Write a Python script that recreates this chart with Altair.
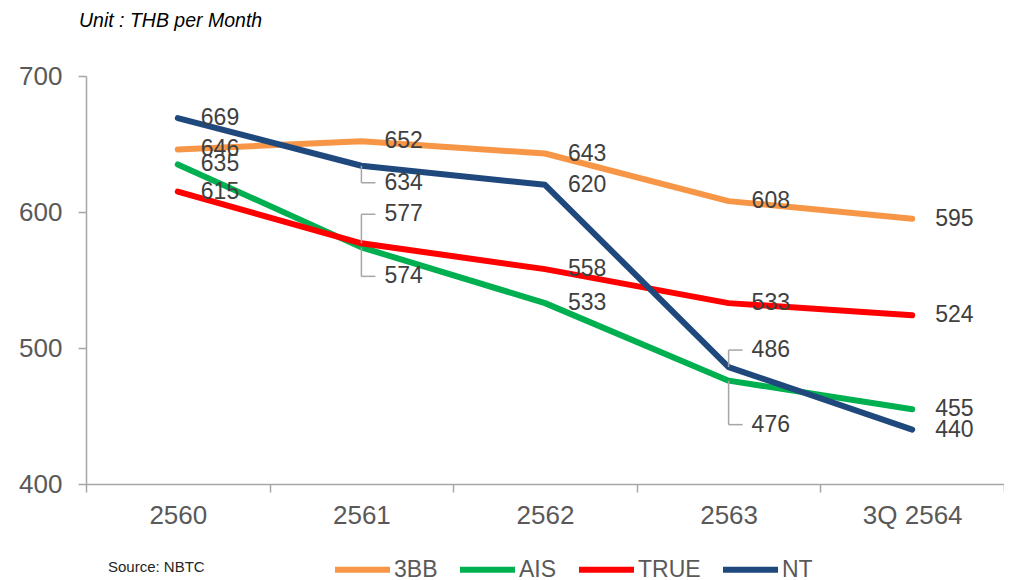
import altair as alt
import pandas as pd

years = ["2560", "2561", "2562", "2563", "3Q 2564"]
series_names = ["3BB", "AIS", "TRUE", "NT"]
bb3 = [646, 652, 643, 608, 595]
ais = [635, 574, 533, 476, 455]
true_ = [615, 577, 558, 533, 524]
nt = [669, 634, 620, 486, 440]
colors = ["#F79646", "#00B050", "#FF0000", "#1F497D"]

values = {"3BB": bb3, "AIS": ais, "TRUE": true_, "NT": nt}
rows = []
for s in series_names:
    for y, v in zip(years, values[s]):
        rows.append({"year": y, "series": s, "value": v})
df = pd.DataFrame(rows)

# labels that are pushed off their point with a leader line: (series, year, pixel dy)
leaders = [("NT", "2561", 17), ("TRUE", "2561", -29), ("AIS", "2561", 29),
           ("NT", "2563", -17), ("AIS", "2563", 44)]
leader_keys = {(s, y) for s, y, _ in leaders}
df["lead"] = [(r.series, r.year) in leader_keys for r in df.itertuples()]

FONT = "Liberation Sans"
x_enc = alt.X("year:N", sort=years, title=None,
              scale=alt.Scale(type="band", paddingInner=0, paddingOuter=0),
              axis=alt.Axis(labelAngle=0, labelFontSize=26, labelColor="#595959",
                            labelFont=FONT, tickBand="extent", tickSize=8,
                            tickColor="#A6A6A6", tickWidth=1.5, domainColor="#A6A6A6",
                            domainWidth=1.5, labelPadding=10))
y_enc = alt.Y("value:Q", title=None,
              scale=alt.Scale(domain=[400, 700], nice=False, zero=False),
              axis=alt.Axis(values=[400, 500, 600, 700], grid=False, labelFontSize=26,
                            labelColor="#595959", labelFont=FONT, tickSize=8,
                            tickColor="#A6A6A6", tickWidth=1.5, domainColor="#A6A6A6",
                            domainWidth=1.5, labelPadding=16))
color_enc = alt.Color("series:N", sort=series_names,
                      scale=alt.Scale(domain=series_names, range=colors),
                      legend=alt.Legend(title=None, orient="none", legendX=246, legendY=463,
                                        direction="horizontal", symbolType="stroke",
                                        symbolSize=3025, symbolStrokeWidth=6,
                                        labelFontSize=23, labelColor="#595959",
                                        labelFont=FONT, labelOffset=1, columnPadding=10,
                                        padding=0))

base = alt.Chart(df)
layers = []
for s in series_names:
    layers.append(base.transform_filter(alt.datum.series == s)
                  .mark_line(strokeWidth=6, strokeCap="round", strokeJoin="round")
                  .encode(x=x_enc, y=y_enc, color=color_enc))

lead_color = "#A6A6A6"
for s, yr, dy in leaders:
    sub = base.transform_filter((alt.datum.series == s) & (alt.datum.year == yr))
    layers.append(sub.mark_rule(color=lead_color, strokeWidth=1.5, y2Offset=dy)
                  .encode(x=alt.X("year:N", sort=years), y="value:Q", y2="value:Q"))
    layers.append(sub.mark_rule(color=lead_color, strokeWidth=1.5, yOffset=dy, x2Offset=14)
                  .encode(x=alt.X("year:N", sort=years), x2="year:N", y="value:Q"))
    layers.append(sub.mark_text(align="left", baseline="middle", dx=23, dy=dy,
                                fontSize=23, font=FONT, color="#404040")
                  .encode(x=alt.X("year:N", sort=years), y="value:Q", text="value:Q"))

layers.append(base.transform_filter(~alt.datum.lead)
              .mark_text(align="left", baseline="middle", dx=23, fontSize=23,
                         font=FONT, color="#404040")
              .encode(x=alt.X("year:N", sort=years), y="value:Q", text="value:Q"))

source = alt.Chart(alt.Data(values=[{"t": "Source: NBTC"}])).mark_text(
    align="left", baseline="middle", fontSize=15, font=FONT, color="#262626"
).encode(x=alt.value(22), y=alt.value(491), text="t:N")
layers.append(source)

chart = alt.layer(*layers).properties(
    width=918, height=408,
    title=alt.TitleParams("Unit : THB per Month", anchor="start", frame="group",
                          fontSize=19.5, fontStyle="italic", fontWeight="normal",
                          font=FONT, color="#000000", dx=-7, offset=32),
    autosize=alt.AutoSizeParams(type="none"),
    padding={"left": 78, "top": 68, "right": 0, "bottom": 100},
).configure_view(stroke=None)

chart.save("out.html", embed_options={"renderer": "svg", "actions": False})
